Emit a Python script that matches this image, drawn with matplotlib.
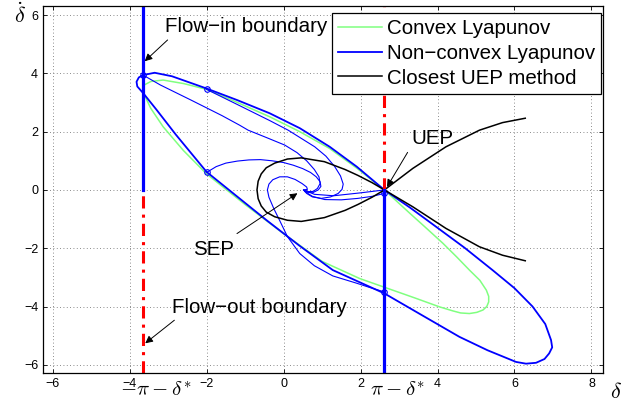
import numpy as np
import matplotlib
matplotlib.use('Agg')
import matplotlib.pyplot as plt

plt.rcParams['font.family'] = ['Liberation Sans', 'DejaVu Sans']
plt.rcParams['mathtext.fontset'] = 'cm'

# equilibrium points
d_sep = 0.52
d_uep = np.pi - d_sep
d_in = -np.pi - d_sep

# convex lyapunov level set
green_x = [-3.63, -3.62, -3.45, -3.13, -2.6, -2.0, -1.2, -0.36, 0.42, 1.2, 1.9, 2.62, 3.28, 3.7, 4.14, 4.5, 4.83,
           5.1, 5.27, 5.33, 5.33, 5.28, 5.18, 5.02, 4.83, 4.6, 4.4, 4.05, 3.4, 2.84, 1.98, 1.0, 0.0, -1.0, -2.0,
           -2.6, -3.13, -3.45, -3.63]
green_y = [3.3, 3.6, 3.72, 3.77, 3.65, 3.45, 3.0, 2.51, 2.0, 1.42, 0.75, 0.0, -0.8, -1.3, -1.83, -2.3, -2.75,
           -3.1, -3.44, -3.65, -3.84, -4.0, -4.12, -4.2, -4.24, -4.22, -4.15, -4.01, -3.7, -3.44, -3.04, -2.45, -1.5,
           -0.5, 0.55, 1.35, 2.17, 2.8, 3.3]

# non-convex lyapunov boundary
blue_x = [-3.65, -3.35, -2.9, -2.0, -1.2, -0.36, 0.42, 1.2, 1.9, 2.62, 3.3, 3.96, 4.7, 5.43, 6.0, 6.47, 6.8, 6.95,
          6.98, 6.9, 6.78, 6.56, 6.3, 6.04, 5.3, 4.57, 3.6, 2.62, 1.28, 0.4, -0.45, -1.23, -2.0, -2.8, -3.3, -3.64,
          -3.8, -3.82, -3.76, -3.65]
blue_y = [3.94, 4.02, 3.9, 3.48, 3.08, 2.63, 2.12, 1.48, 0.8, 0.0, -0.62, -1.26, -1.98, -2.75, -3.37, -4.0, -4.6, -5.15,
          -5.4, -5.61, -5.8, -5.93, -5.96, -5.9, -5.5, -5.04, -4.3, -3.55, -2.75, -1.9, -1.03, -0.2, 0.62, 1.9, 2.75,
          3.31, 3.55, 3.71, 3.86, 3.94]

# trajectories towards the SEP
traj1_x = [-3.65, -3.2, -2.4, -1.6, -1.14, -0.92, -0.45, 0.03, 0.35, 0.6, 0.8, 0.92, 0.95, 0.88, 0.77, 0.6, 0.52]
traj1_y = [3.94, 3.6, 3.08, 2.55, 2.22, 2.05, 1.8, 1.54, 1.28, 1.0, 0.7, 0.45, 0.22, 0.05, -0.05, -0.06, 0.0]
traj2_x = [-2.0, -1.2, -0.36, 0.12, 0.81, 1.1, 1.33, 1.48, 1.55, 1.52, 1.42, 1.22, 0.98, 0.75, 0.6, 0.52]
traj2_y = [3.45, 2.93, 2.38, 2.05, 1.48, 1.16, 0.8, 0.48, 0.2, 0.02, -0.12, -0.24, -0.29, -0.24, -0.12, 0.0]
traj3_x = [-2.0, -1.75, -1.5, -1.2, -0.9, -0.6, -0.3, 0.0, 0.25, 0.5, 0.7, 0.85, 0.95, 0.97, 0.9, 0.75, 0.62, 0.55]
traj3_y = [0.6, 0.8, 0.92, 0.99, 1.03, 1.04, 1.0, 0.94, 0.85, 0.73, 0.6, 0.45, 0.28, 0.12, 0.0, -0.1, -0.08, -0.03]
traj4_x = [2.62, 2.2, 1.9, 1.28, 0.8, 0.42, 0.1, -0.1, -0.25, -0.38, -0.42, -0.38, -0.28, -0.1, 0.1, 0.3, 0.48,
           0.6, 0.62, 0.52]
traj4_y = [-3.5, -3.33, -3.2, -2.95, -2.6, -2.18, -1.6, -1.05, -0.65, -0.25, 0.0, 0.2, 0.35, 0.45, 0.45, 0.36, 0.22,
           0.1, 0.02, 0.0]
traj5_x = [2.62, 2.3, 1.93, 1.5, 1.07, 0.75, 0.55]
traj5_y = [-0.12, -0.22, -0.29, -0.34, -0.33, -0.22, -0.05]
traj6_x = [2.62, 2.0, 1.3, 0.8, 0.55]
traj6_y = [0.0, -0.1, -0.2, -0.15, 0.0]

# initial points
mark_x = [-3.65, -2.0, -2.0, 2.62, 2.62]
mark_y = [3.94, 3.45, 0.6, -0.12, -3.5]

# closest UEP energy level
black_x = [6.28, 5.69, 5.09, 4.22, 3.36, 2.62, 2.3, 1.93, 1.6, 1.06, 0.46, 0.1, -0.23, -0.45, -0.58, -0.66, -0.69,
           -0.66, -0.58, -0.45, -0.23, 0.1, 0.46, 1.06, 1.6, 1.93, 2.3, 2.62, 3.36, 4.22, 5.09, 5.69, 6.28]
black_y = [2.46, 2.31, 2.05, 1.48, 0.74, 0.0, -0.25, -0.5, -0.7, -0.95, -1.08, -1.04, -0.92, -0.76, -0.55, -0.3, 0.0,
           0.3, 0.55, 0.76, 0.92, 1.06, 1.1, 0.97, 0.7, 0.5, 0.25, 0.0, -0.58, -1.32, -1.95, -2.24, -2.43]

xlim = (-6.25, 8.3)
ylim = (-6.28, 6.31)

fig = plt.figure(figsize=(6.38, 4.07), dpi=100)
ax = fig.add_axes([43 / 638, 34 / 407, 560 / 638, 367 / 407])

lg, = ax.plot(green_x, green_y, color='#80ff80', lw=1.1, label='Convex Lyapunov')
lb, = ax.plot(blue_x, blue_y, color='b', lw=1.3, label='Non\u2212convex Lyapunov')
for tx, ty in [(traj1_x, traj1_y), (traj2_x, traj2_y), (traj3_x, traj3_y),
               (traj4_x, traj4_y), (traj5_x, traj5_y), (traj6_x, traj6_y)]:
    ax.plot(tx, ty, color='b', lw=0.8)
ax.plot(mark_x, mark_y, 'o', mfc='none', mec='b', ms=4, mew=0.8)
lk, = ax.plot(black_x, black_y, color='k', lw=1.1, label='Closest UEP method')

# boundaries
ax.plot([d_in, d_in], [0, ylim[1]], color='b', lw=2.3)
ax.plot([d_in, d_in], [ylim[0], 0], color='r', lw=2.2, dashes=(4, 2, 1, 2))
ax.plot([d_uep, d_uep], [0, ylim[1]], color='r', lw=2.2, dashes=(4, 2, 1, 2))
ax.plot([d_uep, d_uep], [ylim[0], 0], color='b', lw=2.3)

ax.set_xlim(xlim)
ax.set_ylim(ylim)
ax.set_xticks(np.arange(-6, 9, 2))
ax.set_yticks(np.arange(-6, 7, 2))
ax.tick_params(direction='in', top=True, right=True, labelsize=9, length=3, width=0.6)
ax.grid(True, color='0.4', lw=0.6, dashes=(1, 3))
for s in ax.spines.values():
    s.set_linewidth(0.9)

ap = dict(arrowstyle='-|>', color='k', lw=0.7, mutation_scale=11)
fs = 14.8
ax.annotate('', xy=(-3.66, 4.35), xytext=(-2.96, 5.21), arrowprops=ap)
ax.text(-3.08, 5.62, 'Flow\u2212in boundary', fontsize=fs, va='center')
ax.annotate('', xy=(-3.65, -5.32), xytext=(-2.78, -4.41), arrowprops=ap)
ax.text(-2.91, -4.03, 'Flow\u2212out boundary', fontsize=fs, va='center')
ax.annotate('', xy=(0.42, -0.06), xytext=(-1.27, -1.55), arrowprops=ap)
ax.text(-2.35, -2.06, 'SEP', fontsize=fs, va='center')
ax.annotate('', xy=(2.65, 0.02), xytext=(3.26, 1.37), arrowprops=ap)
ax.text(3.32, 1.77, 'UEP', fontsize=fs, va='center')

leg = ax.legend(handles=[lg, lb, lk], loc='upper right', bbox_to_anchor=(0.9964, 0.981),
                fontsize=fs, fancybox=False, framealpha=1, edgecolor='k', borderaxespad=0,
                handlelength=2.1, handletextpad=0.25, labelspacing=0.28, borderpad=0.3)
leg.get_frame().set_linewidth(0.9)

fig.text(120 / 638, 1 - 390 / 407, r'$-\pi - \delta^{*}$', fontsize=15, va='center')
fig.text(370 / 638, 1 - 390 / 407, r'$\pi - \delta^{*}$', fontsize=15, va='center')
fig.text(616 / 638, 1 - 393 / 407, r'$\delta$', fontsize=16, va='center', ha='center')
fig.text(20 / 638, 1 - 16 / 407, r'$\dot{\delta}$', fontsize=16, va='center', ha='center')

fig.savefig('out.png', dpi=100)
